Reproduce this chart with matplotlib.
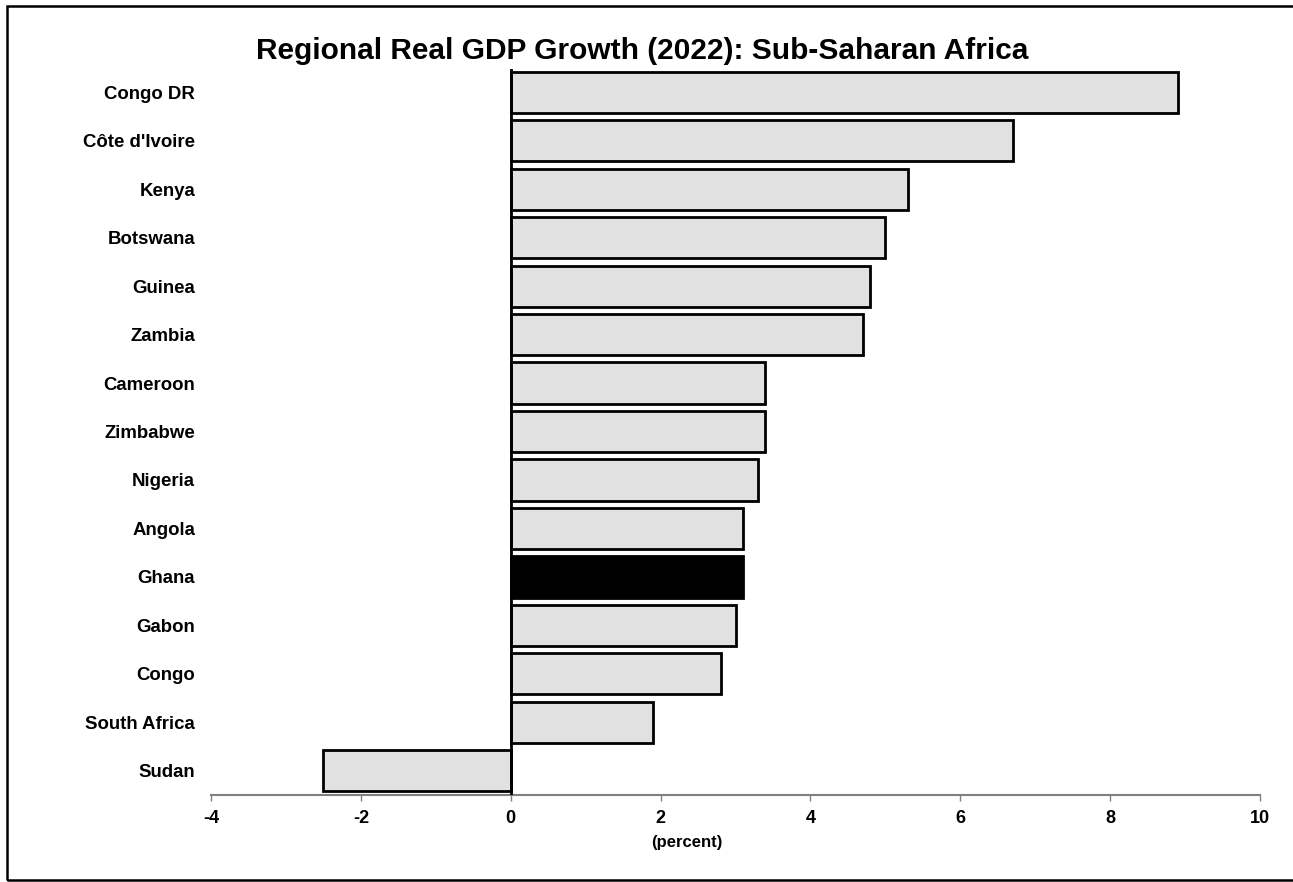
import matplotlib
matplotlib.use("Agg")
import matplotlib.pyplot as plt
from matplotlib.patches import Rectangle

COUNTRIES = [
    "Congo DR", "Côte d'Ivoire", "Kenya", "Botswana", "Guinea", "Zambia",
    "Cameroon", "Zimbabwe", "Nigeria", "Angola", "Ghana", "Gabon", "Congo",
    "South Africa", "Sudan",
]
GROWTH = [8.9, 6.7, 5.3, 5.0, 4.8, 4.7, 3.4, 3.4, 3.3, 3.1, 3.1, 3.0, 2.8, 1.9, -2.5]
HIGHLIGHT = "Ghana"
X_TICKS = [-4, -2, 0, 2, 4, 6, 8, 10]

plt.rcParams["font.family"] = ["Liberation Sans", "DejaVu Sans"]
plt.rcParams["font.weight"] = "bold"

fig = plt.figure(figsize=(12.93, 8.82), dpi=100)
ax = fig.add_axes([211 / 1293, 87 / 882, 1049 / 1293, 726 / 882])

y_pos = list(range(len(COUNTRIES)))
colors = ["black" if c == HIGHLIGHT else "#e1e1e1" for c in COUNTRIES]
ax.barh(y_pos, GROWTH, height=0.85, color=colors, edgecolor="black", linewidth=2)

ax.set_ylim(len(COUNTRIES) - 0.5, -0.48)
ax.set_xlim(-4, 10)
ax.axvline(0, color="black", linewidth=2, zorder=3)

ax.set_yticks(y_pos)
ax.set_yticklabels(COUNTRIES, fontsize=13.4, fontweight="bold")
ax.tick_params(axis="y", length=0, pad=11.5)

ax.set_xticks(X_TICKS)
ax.set_xticklabels([str(t) for t in X_TICKS], fontsize=13, fontweight="bold")
ax.tick_params(axis="x", length=4, width=1, color="#808080", pad=7)

for side in ["left", "right", "top"]:
    ax.spines[side].set_visible(False)
ax.spines["bottom"].set_color("#808080")
ax.spines["bottom"].set_linewidth(1.5)

ax.set_xlabel("(percent)", fontsize=12, fontweight="bold")
ax.xaxis.set_label_coords(0.454, -0.055)

fig.text(0.497, 1 - 51 / 882, "Regional Real GDP Growth (2022): Sub-Saharan Africa",
         ha="center", va="center", fontsize=21.5, fontweight="bold")

# outer frame, right edge falls just off the canvas as in the source
fig.patches.append(Rectangle((7, 2), 1292, 874, transform=None, fill=False,
                             edgecolor="black", linewidth=1.8))

fig.savefig("out.png", dpi=100)
